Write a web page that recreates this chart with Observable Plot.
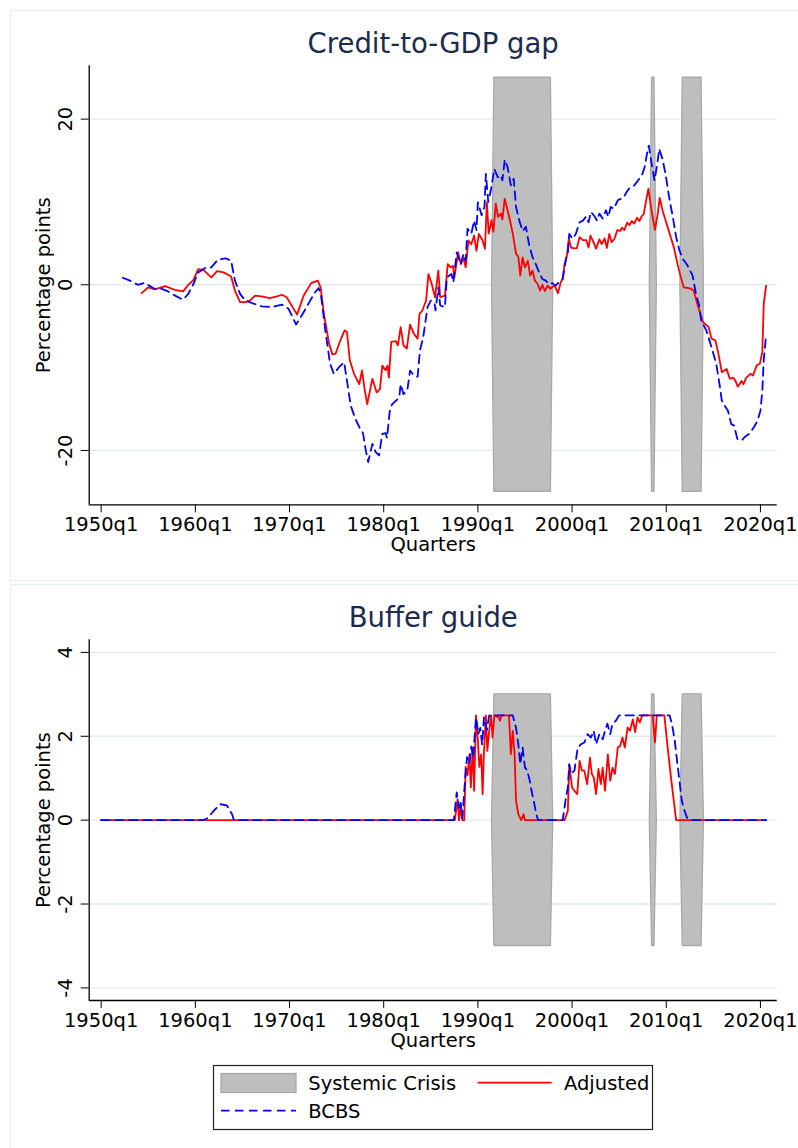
<!DOCTYPE html>
<html>
<head>
<meta charset="utf-8">
<script src="https://cdn.jsdelivr.net/npm/d3@7"></script>
<script src="https://cdn.jsdelivr.net/npm/@observablehq/plot@0.6"></script>
<style>
  html, body { margin: 0; padding: 0; background: #fff; }
  #page { position: relative; width: 798px; height: 1148px; overflow: hidden; font-family: "DejaVu Sans", sans-serif; }
  .panel-box { position: absolute; border: 1px solid #e6edf0; box-sizing: border-box; }
  #gap, #buffer, #legend { position: absolute; left: 0; }
</style>
</head>
<body>
<div id="page">
  <div class="panel-box" style="left:10px; top:10px; width:800px; height:571px"></div>
  <div class="panel-box" style="left:10px; top:584px; width:800px; height:600px"></div>
  <div id="gap" style="top:0"></div>
  <div id="buffer" style="top:580px"></div>
  <svg id="legend" width="798" height="98" style="top:1050px"></svg>
</div>
<script>
// ---- Data (time in decimal years, values in percentage points) ----
const panelTitles = ["Credit-to-GDP gap", "Buffer guide"];
const yAxisTitle = "Percentage points";
const xAxisTitle = "Quarters";
const legendLabels = ["Systemic Crisis", "Adjusted", "BCBS"];
const quarterTicks = [1950, 1960, 1970, 1980, 1990, 2000, 2010, 2020];
const gapTicks = [-20, 0, 20];
const bufferTicks = [-4, -2, 0, 2, 4];

// Systemic crisis episodes: first and last quarter
const crisisEpisodes = [[1991.75, 1997.75], [2008.5, 2008.75], [2011.75, 2013.75]];

const bcbsGap = [[1952.3,0.85],[1953.05,0.5],[1953.9,0.0],[1954.6,0.25],[1955.7,-0.5],[1956.2,-0.4],[1957.1,-0.8],[1958.0,-1.4],[1958.7,-1.8],[1959.25,-1.1],[1959.8,0.1],[1960.3,1.5],[1961.0,2.0],[1961.7,2.1],[1962.4,3.05],[1963.2,3.2],[1963.8,2.9],[1964.2,0.5],[1964.75,-1.1],[1965.3,-1.9],[1966.0,-2.2],[1967.05,-2.6],[1968.1,-2.7],[1969.2,-2.4],[1969.9,-2.9],[1970.7,-4.8],[1971.3,-3.7],[1972.0,-2.3],[1972.7,-0.9],[1973.1,-0.4],[1973.35,-1.3],[1973.8,-5.5],[1974.3,-9.5],[1974.7,-10.75],[1975.25,-9.95],[1975.8,-9.35],[1976.15,-11.95],[1976.5,-14.6],[1977.0,-16.2],[1977.5,-17.4],[1977.8,-17.9],[1978.1,-20.0],[1978.35,-21.4],[1978.8,-19.2],[1979.15,-20.2],[1979.5,-20.6],[1979.85,-18.0],[1980.2,-17.9],[1980.35,-18.5],[1980.65,-15.2],[1980.9,-14.4],[1981.3,-14.0],[1981.65,-13.6],[1981.8,-12.0],[1982.1,-13.2],[1982.5,-12.8],[1982.8,-10.35],[1983.2,-10.95],[1983.6,-11.1],[1983.85,-7.9],[1984.2,-6.3],[1984.65,-2.7],[1985.0,-1.9],[1985.4,-2.3],[1985.5,-3.1],[1985.8,-0.3],[1986.0,-2.5],[1986.5,-2.7],[1986.7,0.9],[1987.2,1.3],[1987.4,0.3],[1987.75,3.9],[1988.2,2.5],[1988.45,3.7],[1988.7,2.9],[1988.9,6.75],[1989.3,6.15],[1989.6,7.75],[1989.85,6.6],[1990.0,9.95],[1990.4,8.4],[1990.7,9.4],[1990.85,13.4],[1991.1,10.0],[1991.4,11.6],[1991.75,14.0],[1992.1,13.0],[1992.45,13.2],[1992.6,12.6],[1992.85,15.1],[1993.15,14.2],[1993.5,12.0],[1993.8,12.8],[1994.05,9.4],[1994.4,7.75],[1994.75,6.5],[1995.1,7.0],[1995.45,4.75],[1995.8,3.35],[1996.15,2.5],[1996.5,1.5],[1996.85,0.7],[1997.2,0.5],[1997.55,0.1],[1997.9,0.2],[1998.25,-0.1],[1998.6,0.3],[1999.0,0.7],[1999.4,3.35],[1999.55,3.75],[1999.7,6.15],[2000.05,5.55],[2000.4,6.15],[2000.8,7.55],[2001.15,7.75],[2001.5,8.25],[2001.75,7.55],[2002.0,8.8],[2002.4,8.25],[2002.65,7.75],[2002.9,8.6],[2003.25,8.0],[2003.6,9.0],[2003.85,8.2],[2004.1,9.4],[2004.45,9.2],[2004.85,10.2],[2005.2,10.4],[2005.5,10.6],[2005.9,11.4],[2006.2,11.8],[2006.6,12.0],[2007.0,12.6],[2007.4,13.2],[2007.7,14.2],[2007.95,15.8],[2008.15,16.8],[2008.45,14.6],[2008.75,12.6],[2009.05,14.6],[2009.25,16.4],[2009.6,15.2],[2009.95,13.2],[2010.3,10.6],[2010.7,8.15],[2011.05,5.75],[2011.4,4.15],[2011.75,3.15],[2012.25,2.35],[2012.8,1.1],[2013.15,-1.1],[2013.5,-2.5],[2013.7,-4.3],[2014.25,-5.5],[2014.8,-7.5],[2015.3,-9.5],[2015.65,-11.95],[2015.9,-14.0],[2016.2,-14.6],[2016.55,-15.2],[2016.9,-16.8],[2017.2,-17.0],[2017.55,-18.6],[2018.0,-18.8],[2018.3,-18.4],[2018.8,-18.0],[2019.3,-17.2],[2019.7,-16.4],[2020.0,-15.2],[2020.2,-12.8],[2020.35,-9.1],[2020.6,-6.1]];

const adjustedGap = [[1954.3,-1.0],[1955.0,-0.3],[1955.7,-0.55],[1956.8,-0.15],[1957.8,-0.6],[1958.7,-0.8],[1959.25,0.0],[1959.8,0.6],[1960.3,1.9],[1960.85,1.8],[1961.7,0.9],[1962.3,1.65],[1963.0,1.5],[1963.8,1.0],[1964.2,-0.7],[1964.75,-2.1],[1965.3,-2.1],[1965.8,-1.9],[1966.35,-1.3],[1967.05,-1.4],[1967.9,-1.6],[1968.65,-1.4],[1969.2,-1.2],[1969.7,-1.5],[1970.8,-3.6],[1971.5,-1.3],[1972.3,0.2],[1973.0,0.5],[1973.3,-0.3],[1973.65,-3.5],[1974.2,-7.1],[1974.55,-8.4],[1974.9,-8.3],[1975.4,-6.7],[1975.85,-5.5],[1976.1,-5.7],[1976.4,-9.1],[1976.85,-10.75],[1977.4,-12.0],[1977.7,-10.35],[1978.0,-12.8],[1978.25,-14.4],[1978.8,-11.35],[1979.25,-13.0],[1979.6,-12.6],[1979.85,-9.75],[1980.2,-10.3],[1980.4,-9.75],[1980.55,-11.2],[1980.8,-6.9],[1981.3,-6.8],[1981.5,-7.3],[1981.8,-5.1],[1982.1,-7.3],[1982.45,-7.7],[1982.8,-4.8],[1983.2,-5.9],[1983.6,-6.5],[1983.8,-3.5],[1984.1,-3.1],[1984.5,-1.9],[1984.75,1.3],[1985.1,0.1],[1985.45,-1.5],[1985.8,1.7],[1986.0,-1.5],[1986.5,-1.3],[1986.8,2.5],[1987.1,2.1],[1987.35,2.3],[1987.5,0.9],[1987.9,3.9],[1988.2,2.5],[1988.45,3.3],[1988.7,2.1],[1989.0,5.35],[1989.3,4.9],[1989.6,5.95],[1989.85,4.1],[1990.1,6.15],[1990.5,5.35],[1990.75,4.35],[1990.95,9.95],[1991.15,6.2],[1991.45,7.8],[1991.65,6.4],[1991.9,9.8],[1992.15,8.2],[1992.45,8.6],[1992.6,7.9],[1992.85,10.4],[1993.15,9.0],[1993.4,7.8],[1993.7,6.2],[1994.05,3.75],[1994.3,3.35],[1994.5,1.1],[1994.75,3.3],[1995.0,2.1],[1995.3,2.9],[1995.55,1.1],[1995.8,1.7],[1996.05,0.5],[1996.35,0.1],[1996.6,-0.7],[1996.85,0.0],[1997.1,-0.75],[1997.4,-0.1],[1997.7,-0.5],[1997.95,-0.2],[1998.2,-0.2],[1998.5,-1.0],[1998.8,0.3],[1999.0,0.7],[1999.2,2.5],[1999.45,3.5],[1999.65,5.55],[1999.9,4.5],[2000.25,4.4],[2000.5,4.4],[2000.8,5.75],[2001.15,5.4],[2001.5,5.4],[2001.75,4.5],[2001.95,5.95],[2002.3,5.1],[2002.55,4.35],[2002.9,5.5],[2003.15,4.9],[2003.45,5.6],[2003.7,4.45],[2003.95,6.15],[2004.2,5.15],[2004.5,5.55],[2004.8,6.6],[2005.1,6.5],[2005.3,6.9],[2005.55,6.6],[2005.85,7.5],[2006.1,7.2],[2006.35,7.7],[2006.6,7.4],[2006.9,8.1],[2007.15,7.7],[2007.4,8.3],[2007.6,8.5],[2007.85,10.1],[2008.1,11.6],[2008.45,8.9],[2008.8,6.65],[2009.1,8.6],[2009.3,10.5],[2009.6,9.0],[2010.15,6.95],[2010.8,4.55],[2011.2,2.5],[2011.55,0.9],[2011.85,-0.3],[2012.4,-0.4],[2012.65,-0.5],[2012.9,-0.7],[2013.4,-2.7],[2013.9,-4.5],[2014.5,-5.1],[2014.8,-6.5],[2015.2,-6.7],[2015.5,-8.1],[2015.9,-10.55],[2016.4,-10.15],[2016.75,-11.35],[2017.1,-11.2],[2017.35,-11.6],[2017.6,-12.3],[2018.0,-11.6],[2018.2,-12.0],[2018.5,-11.2],[2018.95,-10.75],[2019.2,-10.95],[2019.6,-9.75],[2019.95,-9.5],[2020.2,-8.1],[2020.35,-2.3],[2020.6,-0.1]];

const bcbsBuffer = [[1950.0,0],[1960.9,0],[1961.3,0.05],[1961.95,0.22],[1962.65,0.38],[1963.35,0.35],[1963.9,0.14],[1964.1,0],[1987.45,0],[1987.75,0.66],[1988.0,0.3],[1988.15,0.45],[1988.35,0.05],[1988.65,1.0],[1988.85,1.5],[1989.1,1.35],[1989.3,1.75],[1989.5,1.5],[1989.8,2.45],[1990.05,2.05],[1990.25,2.2],[1990.45,1.8],[1990.65,2.45],[1990.95,2.15],[1991.2,2.5],[1993.7,2.5],[1994.05,2.2],[1994.3,1.8],[1994.5,1.33],[1994.75,1.73],[1995.0,1.25],[1995.2,1.2],[1995.45,1.0],[1995.7,0.7],[1996.0,0.38],[1996.2,0.14],[1996.4,0],[1999.0,0],[1999.2,0.3],[1999.35,0.54],[1999.55,0.78],[1999.7,1.33],[1999.9,1.1],[2000.25,1.18],[2000.6,1.73],[2000.95,1.81],[2001.3,1.85],[2001.65,2.05],[2002.0,1.97],[2002.3,2.13],[2002.55,1.81],[2002.9,2.05],[2003.25,1.93],[2003.5,2.13],[2003.75,2.3],[2004.05,2.05],[2004.3,2.3],[2004.65,2.37],[2005.0,2.5],[2010.35,2.5],[2010.6,2.3],[2010.9,1.9],[2011.15,1.41],[2011.4,0.94],[2011.65,0.46],[2011.95,0.22],[2012.2,0.06],[2012.55,0],[2020.6,0]];

const adjustedBuffer = [[1950.0,0],[1987.55,0],[1987.85,0.5],[1988.0,0],[1988.15,0.3],[1988.35,0],[1988.55,0],[1988.7,1.27],[1988.9,1.07],[1989.1,1.57],[1989.25,0.78],[1989.45,1.73],[1989.6,0.7],[1989.8,2.5],[1990.0,1.9],[1990.15,1.27],[1990.35,1.57],[1990.5,0.62],[1990.65,1.65],[1990.85,2.5],[1991.0,1.65],[1991.2,2.13],[1991.4,2.5],[1991.55,1.97],[1991.75,2.5],[1992.2,2.45],[1992.35,2.37],[1992.5,2.5],[1993.3,2.5],[1993.5,1.57],[1993.7,2.13],[1993.9,1.57],[1994.05,0.46],[1994.3,0.14],[1994.6,0],[1994.85,0.14],[1995.0,0],[1999.2,0],[1999.55,0.22],[1999.7,1.33],[2000.0,0.78],[2000.25,0.7],[2000.55,0.62],[2000.8,1.41],[2001.05,1.18],[2001.3,1.18],[2001.6,0.86],[2001.9,1.49],[2002.1,1.1],[2002.3,1.02],[2002.55,0.62],[2002.8,1.22],[2003.05,0.86],[2003.25,1.25],[2003.5,0.7],[2003.8,1.57],[2004.05,0.94],[2004.3,1.25],[2004.55,1.1],[2004.85,1.73],[2005.1,1.77],[2005.35,1.97],[2005.6,1.73],[2005.9,2.21],[2006.15,2.13],[2006.45,2.4],[2006.7,2.1],[2006.95,2.45],[2007.2,2.33],[2007.45,2.5],[2008.55,2.5],[2008.8,1.85],[2009.0,2.5],[2009.8,2.5],[2010.15,1.73],[2010.5,1.02],[2010.8,0.46],[2011.05,0],[2020.6,0]];

// ---- Styling ----
const RED = "#ff0000", BLUE = "#0000ff";
const CRISIS_FILL = "#bebebe", CRISIS_STROKE = "#a9a9a9";
const GRID = "#e3ebef", TITLE_COLOR = "#1c2b4f";
const DASH = "8.5,5.5";
const FONT = '"DejaVu Sans", sans-serif';
const xDomain = [1948.73, 2021.78];

// Shaded crisis band: full height during the episode, tapering to zero over the neighbouring quarter
function crisisShape(extent) {
  return crisisEpisodes.flatMap(([start, end], id) => [
    {t: start - 0.25, h: 0, id},
    {t: start, h: extent, id},
    {t: end, h: extent, id},
    {t: end + 0.25, h: 0, id}
  ]);
}

function drawPanel({title, yDomain, yTicks, band, adjusted, bcbs, height, marginTop, marginBottom}) {
  return Plot.plot({
    width: 798,
    height,
    marginLeft: 88.7,
    marginRight: 21.3,
    marginTop,
    marginBottom,
    style: {fontFamily: FONT, fontSize: "19.5px", background: "transparent", color: "#000", overflow: "visible"},
    x: {domain: xDomain},
    y: {domain: yDomain},
    marks: [
      Plot.gridY({ticks: yTicks, stroke: GRID, strokeOpacity: 1, strokeWidth: 1.4}),
      Plot.areaY(crisisShape(band), {x: "t", y1: d => -d.h, y2: "h", z: "id", fill: CRISIS_FILL, stroke: CRISIS_STROKE, strokeWidth: 1.3}),
      Plot.line(adjusted, {x: d => d[0], y: d => d[1], stroke: RED, strokeWidth: 1.8}),
      Plot.line(bcbs, {x: d => d[0], y: d => d[1], stroke: BLUE, strokeWidth: 1.8, strokeDasharray: DASH}),
      Plot.ruleX([xDomain[0]], {stroke: "#000", strokeWidth: 1.3}),
      Plot.ruleY([yDomain[0]], {stroke: "#000", strokeWidth: 1.3}),
      Plot.axisX({ticks: quarterTicks, tickSize: 8, tickPadding: 4.5, tickFormat: d => `${d}q1`, label: null, stroke: "#000"}),
      Plot.axisY({ticks: yTicks, tickSize: 8, tickFormat: () => "", label: null, stroke: "#000"}),
      Plot.text(yTicks, {y: d => d, text: d => String(d), frameAnchor: "left", textAnchor: "middle", rotate: -90, lineAnchor: "bottom", dx: -17.5}),
      Plot.text([yAxisTitle], {text: d => d, frameAnchor: "left", textAnchor: "middle", rotate: -90, lineAnchor: "bottom", dx: -38.7}),
      Plot.text([xAxisTitle], {text: d => d, frameAnchor: "bottom", textAnchor: "middle", lineAnchor: "bottom", dy: 46.4}),
      Plot.text([title], {text: d => d, frameAnchor: "top", textAnchor: "middle", lineAnchor: "bottom", dy: -12.8, fontSize: 27.5, fill: TITLE_COLOR})
    ]
  });
}

document.getElementById("gap").append(drawPanel({
  title: panelTitles[0], yDomain: [-26.56, 26.44], yTicks: gapTicks, band: 25,
  adjusted: adjustedGap, bcbs: bcbsGap, height: 580, marginTop: 65.3, marginBottom: 75.7
}));

document.getElementById("buffer").append(drawPanel({
  title: panelTitles[1], yDomain: [-4.3, 4.3], yTicks: bufferTicks, band: 3,
  adjusted: adjustedBuffer, bcbs: bcbsBuffer, height: 568, marginTop: 59.3, marginBottom: 148
}));

// ---- Legend ----
const legend = d3.select("#legend").style("font-family", FONT).style("font-size", "19.5px");
legend.append("rect").attr("x", 213.5).attr("y", 15.5).attr("width", 439).attr("height", 64)
  .attr("fill", "#fff").attr("stroke", "#222").attr("stroke-width", 1.2);
legend.append("rect").attr("x", 221).attr("y", 23.5).attr("width", 75).attr("height", 19)
  .attr("fill", CRISIS_FILL).attr("stroke", CRISIS_STROKE).attr("stroke-width", 1.3);
legend.append("text").attr("x", 308.3).attr("y", 40).text(legendLabels[0]);
legend.append("line").attr("x1", 477.7).attr("x2", 551.7).attr("y1", 32.7).attr("y2", 32.7)
  .attr("stroke", RED).attr("stroke-width", 1.8);
legend.append("text").attr("x", 564).attr("y", 40).text(legendLabels[1]);
legend.append("line").attr("x1", 221).attr("x2", 296).attr("y1", 60.7).attr("y2", 60.7)
  .attr("stroke", BLUE).attr("stroke-width", 1.8).attr("stroke-dasharray", DASH);
legend.append("text").attr("x", 308.3).attr("y", 68.3).text(legendLabels[2]);
</script>
</body>
</html>
